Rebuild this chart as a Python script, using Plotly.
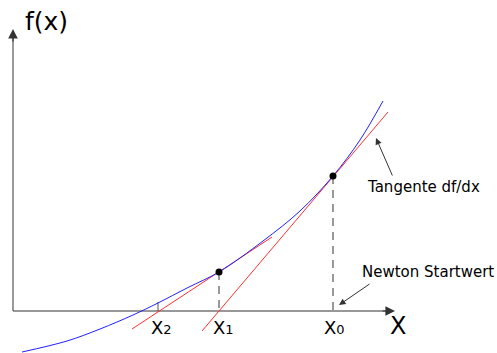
import plotly.graph_objects as go

# Values (pixel-like data units, y grows downward)
curve_x = [22, 67, 100, 133, 158, 188, 219, 263, 300, 333, 360, 383]
curve_y = [352, 341, 329, 315, 303, 287.5, 272, 241, 211, 176, 140, 101]

tangent0_x = [202, 388]
tangent0_y = [331, 112]
tangent1_x = [132, 272]
tangent1_y = [329, 237]

points_x = [219, 333]
points_y = [272, 176]

drop_x = [219, 333]
drop_top = [272, 176]
drop_bottom = [312, 315]

axis_origin = (13, 311)
axis_x_end = 395
axis_y_end = 29

x2_tick = 158

labels = ["X", "X", "X"]
subs = ["2", "1", "0"]
label_x = [161, 223, 334]
label_y = 327

fig = go.Figure()

# axes lines
fig.add_trace(go.Scatter(x=[axis_origin[0], axis_x_end - 8], y=[axis_origin[1], axis_origin[1]],
                         mode="lines", line=dict(color="#333333", width=1.2), hoverinfo="skip"))
fig.add_trace(go.Scatter(x=[axis_origin[0], axis_origin[0]], y=[axis_origin[1], axis_y_end + 8],
                         mode="lines", line=dict(color="#555555", width=1.2), hoverinfo="skip"))
# x2 tick
fig.add_trace(go.Scatter(x=[x2_tick, x2_tick], y=[302, axis_origin[1]], mode="lines",
                         line=dict(color="#555555", width=1), hoverinfo="skip"))

# dashed drop lines
for dx, t, b in zip(drop_x, drop_top, drop_bottom):
    fig.add_trace(go.Scatter(x=[dx, dx], y=[t, b], mode="lines",
                             line=dict(color="#555555", width=1.2, dash="8px,6px"), hoverinfo="skip"))

# tangents
fig.add_trace(go.Scatter(x=tangent0_x, y=tangent0_y, mode="lines",
                         line=dict(color="#ff3030", width=1), hoverinfo="skip"))
fig.add_trace(go.Scatter(x=tangent1_x, y=tangent1_y, mode="lines",
                         line=dict(color="#ff3030", width=1), hoverinfo="skip"))

# curve
fig.add_trace(go.Scatter(x=curve_x, y=curve_y, mode="lines", line_shape="spline",
                         line=dict(color="#2020ff", width=1), hoverinfo="skip"))

# points
fig.add_trace(go.Scatter(x=points_x, y=points_y, mode="markers",
                         marker=dict(color="black", size=7), hoverinfo="skip"))

font = "DejaVu Sans"
ann = []
# axis arrowheads
ann.append(dict(x=axis_x_end, y=axis_origin[1], ax=axis_x_end - 14, ay=axis_origin[1],
                xref="x", yref="y", axref="x", ayref="y", text="", showarrow=True,
                arrowhead=2, arrowsize=1.6, arrowwidth=1.2, arrowcolor="#333333"))
ann.append(dict(x=axis_origin[0], y=axis_y_end, ax=axis_origin[0], ay=axis_y_end + 14,
                xref="x", yref="y", axref="x", ayref="y", text="", showarrow=True,
                arrowhead=2, arrowsize=1.6, arrowwidth=1.2, arrowcolor="#333333"))
# pointer arrows
ann.append(dict(x=376, y=138, ax=393, ay=177, xref="x", yref="y", axref="x", ayref="y",
                text="", showarrow=True, arrowhead=2, arrowsize=1.3, arrowwidth=1, arrowcolor="#333333"))
ann.append(dict(x=339, y=305, ax=371, ay=283, xref="x", yref="y", axref="x", ayref="y",
                text="", showarrow=True, arrowhead=2, arrowsize=1.3, arrowwidth=1, arrowcolor="#333333"))

# texts
ann.append(dict(x=46, y=21, text="f(x)", showarrow=False, xref="x", yref="y",
                font=dict(family=font, size=25, color="black")))
ann.append(dict(x=398, y=326, text="X", showarrow=False, xref="x", yref="y",
                font=dict(family=font, size=24, color="black")))
for lx, l, s in zip(label_x, labels, subs):
    ann.append(dict(x=lx, y=label_y, text=f"{l}<span style='font-size:13px'>{s}</span>",
                    showarrow=False, xref="x", yref="y",
                    font=dict(family=font, size=18, color="black")))
ann.append(dict(x=423, y=187, text="Tangente df/dx", showarrow=False, xref="x", yref="y",
                font=dict(family=font, size=15, color="black")))
ann.append(dict(x=428, y=272, text="Newton Startwert", showarrow=False, xref="x", yref="y",
                font=dict(family=font, size=15, color="black")))

fig.update_layout(
    width=497, height=353, margin=dict(l=0, r=0, t=0, b=0),
    paper_bgcolor="white", plot_bgcolor="white", showlegend=False,
    xaxis=dict(range=[0, 497], visible=False, fixedrange=True),
    yaxis=dict(range=[353, 0], visible=False, fixedrange=True),
    annotations=ann,
)

fig.write_html("out.html", config={"displayModeBar": False},
               post_script="document.body.style.margin='0';document.body.style.overflow='hidden';")
